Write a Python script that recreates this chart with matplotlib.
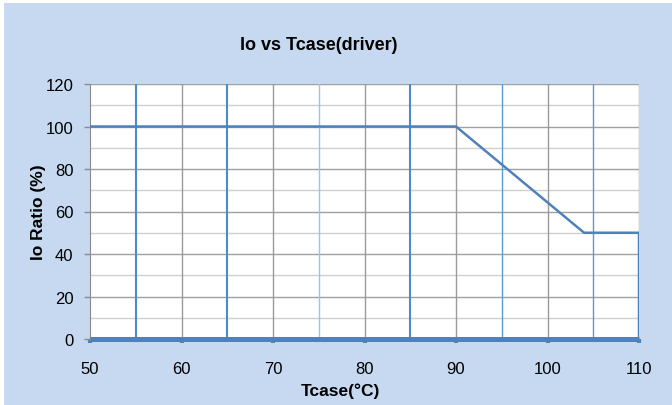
import matplotlib.pyplot as plt
from matplotlib.patches import Rectangle

# Series data
tcase = [50, 90, 104, 110, 110]
io_ratio = [100, 100, 50, 50, 0]
baseline_x = [50, 110]
baseline_y = [0, 0]

# Vertical marker lines seen on the chart
blue_marks = [55, 65, 85]
thin_blue_marks = [95, 105]
light_blue_marks = [75]

x_ticks = [50, 60, 70, 80, 90, 100, 110]
y_ticks = [0, 20, 40, 60, 80, 100, 120]

plt.rcParams['font.family'] = ['Liberation Sans', 'DejaVu Sans']

W, H = 672, 406
fig = plt.figure(figsize=(W / 100, H / 100), dpi=100)
fig.patch.set_facecolor("white")
fig.patches.append(Rectangle((4 / W, 0), 1, 1 - 4 / H, transform=fig.transFigure,
                             facecolor="#C6D9F1", edgecolor="none", zorder=-1))

ax = fig.add_axes([90 / W, (H - 340) / H, 549 / W, 255 / H])
ax.set_facecolor("white")

# Grid
for y in range(10, 120, 20):
    ax.axhline(y, color="#D0D0D0", lw=1, zorder=1)
for y in range(20, 121, 20):
    ax.axhline(y, color="#A0A0A0", lw=1, zorder=1)
for x in range(60, 111, 10):
    ax.axvline(x, color="#9A9A9A", lw=1, zorder=1)
for x in blue_marks:
    ax.axvline(x, color="#4A8CCB", lw=1.5, zorder=2)
for x in thin_blue_marks:
    ax.axvline(x, color="#5B9BD5", lw=1, zorder=2)
for x in light_blue_marks:
    ax.axvline(x, color="#9DC3E6", lw=1, zorder=2)

ax.plot(tcase, io_ratio, color="#4F81BD", lw=1.8, zorder=3, solid_joinstyle="miter")
ax.plot(baseline_x, baseline_y, color="#4F81BD", lw=3.6, zorder=4, clip_on=False,
        solid_capstyle="butt")

ax.set_xlim(50, 110)
ax.set_ylim(0, 120)
ax.set_xticks(x_ticks)
ax.set_yticks(y_ticks)
ax.tick_params(axis="both", labelsize=12, colors="black", length=4, width=1)
ax.tick_params(axis="x", color="#4F81BD", width=3, length=3, pad=13)
ax.tick_params(axis="y", color="#8C8C8C", pad=8)

for s in ["top", "right"]:
    ax.spines[s].set_visible(False)
ax.spines["left"].set_color("#8C8C8C")
ax.spines["bottom"].set_visible(False)

fig.text(319 / W, 1 - 45 / H, "Io vs Tcase(driver)", fontsize=13, fontweight="bold",
         ha="center", va="center")
fig.text(340 / W, 1 - 391 / H, "Tcase(°C)", fontsize=12.5, fontweight="bold",
         ha="center", va="center")
fig.text(38 / W, 1 - 212 / H, "Io Ratio (%)", fontsize=12.5, fontweight="bold",
         ha="center", va="center", rotation=90)

fig.savefig("out.png", dpi=100)
